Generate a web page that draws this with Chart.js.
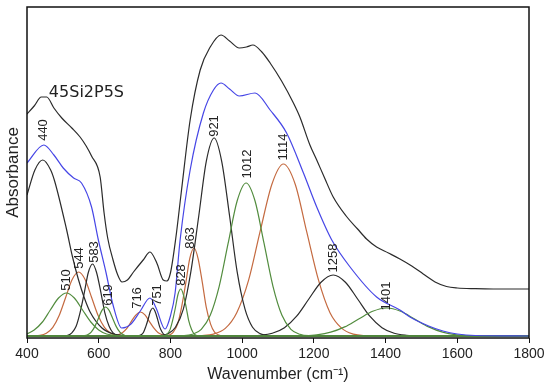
<!DOCTYPE html>
<html>
<head>
<meta charset="utf-8">
<script src="https://cdn.jsdelivr.net/npm/chart.js@4.4.1/dist/chart.umd.min.js"></script>
<style>
html,body{margin:0;padding:0;background:#fff;}
#wrap{width:550px;height:388px;}
</style>
</head>
<body>
<div id="wrap"><canvas id="c" width="550" height="388"></canvas></div>
<script>
// ---- data (wavenumber, absorbance in arbitrary units) ----
const xTicks = [400, 600, 800, 1000, 1200, 1400, 1600, 1800];

const expX = [400,420,440,455,475,497,525,548,565,580,604,615,625,640,652,665,680,697,724,743,762,780,790,800,815,830,855,883,911,941,965,992,1012,1030,1055,1078,1110,1143,1161,1189,1208,1230,1254,1290,1322,1347,1375,1408,1440,1473,1505,1538,1570,1600,1650,1700,1800];
const expY = [224,232,241,241,230,220,210,201,192,182,161,125,100,78,64,56,58,66,78,86,75,58,57,65,100,145,218,268,291,303,297,290,291,293,286,275,257,235,221,193,178,160,141,122,109,99,91,85,79,72,64,56,51.5,50,49.3,49,49];

const fitX = [400,447,475,501,530,552,580,599,620,640,664,690,716,743,760,785,800,813,827,855,892,920,941,965,992,1036,1078,1124,1171,1208,1250,1301,1375,1440,1468,1520,1560,1600,1650,1800];
const fitY = [175,193,183,170,160,155,131,98,66,33,10,14,27,40,30,9,22,45,98,168,225,248,255,249,242,245,228,205,165,131,98,71,41,28,21,12,7,4,2.5,2];

const p440X = [400,422,444,466,477,510,527,543,559,576,609,642,680,1800];
const p440Y = [143,168,178,168,157,109,81,59,41,26,10,4,2.3,2];
const p510X = [400,420,443,465,488,510,532,555,578,600,622,650,700,1800];
const p510Y = [4,8,16,28,40,45,40,28,16,8,4,2.5,2,2];
const p544X = [400,436,454,472,490,508,526,544,562,580,598,616,634,652,700,1800];
const p544Y = [2,2.7,4.8,10.7,22.8,40.8,58.5,66,58.5,40.8,22.8,10.7,4.8,2.7,2,2];
const p583X = [400,500,514,525,537,548,560,571,583,594,606,617,629,640,652,700,1800];
const p583Y = [2,2,2.8,5.2,11.7,25.4,45.7,65.5,74,65.5,45.7,25.4,11.7,5.2,2.8,2,2];
const p619X = [400,550,559,569,579,589,599,609,619,629,639,649,659,669,679,720,1800];
const p619Y = [2,2,2.3,3.3,5.9,11.4,19.6,27.6,31,27.6,19.6,11.4,5.9,3.3,2.3,2,2];
const p716X = [400,630,641,654,666,679,691,704,716,729,741,754,766,779,791,830,1800];
const p716Y = [2,2,2.3,3.1,5.2,9.8,16.6,23.2,26,23.2,16.6,9.8,5.2,3.1,2.3,2,2];
const p751X = [400,700,712,718,725,731,738,744,751,757,764,770,777,783,790,820,1800];
const p751Y = [2,2,2.3,3.2,5.8,11.1,19,26.7,30,26.7,19,11.1,5.8,3.2,2.3,2,2];
const p828X = [400,770,784,791,799,806,814,821,829,836,844,851,859,866,874,910,1800];
const p828Y = [2,2,2.5,4.1,8.4,17.3,30.5,43.5,49,43.5,30.5,17.3,8.4,4.1,2.5,2,2];
const p863X = [400,760,786,797,808,820,831,843,854,866,877,889,900,912,923,935,946,990,1800];
const p863Y = [2,2,2.3,3,5.9,13.9,30.6,55.4,79.7,90,79.7,55.4,30.6,13.9,5.9,3,2.3,2,2];
const p921X = [400,750,772,793,814,836,857,879,900,922,943,965,986,1008,1029,1051,1072,1110,1800];
const p921Y = [2,2,2.4,4.2,10.7,28.8,66.3,122,176.7,200,176.7,122,66.3,28.8,10.7,4.2,2.4,2,2];
const p1012X = [400,800,836,861,886,911,936,961,986,1011,1036,1061,1086,1111,1136,1161,1186,1250,1800];
const p1012Y = [2,2,2.3,3.7,8.7,22.7,51.7,94.8,137,155,137,94.8,51.7,22.7,8.7,3.7,2.3,2,2];
const p1114X = [400,850,888,920,953,985,1018,1050,1083,1115,1148,1180,1213,1245,1278,1310,1343,1400,1800];
const p1114Y = [2,2,2.4,3.9,9.6,25.3,57.8,106.3,153.8,174,153.8,106.3,57.8,25.3,9.6,3.9,2.4,2,2];
const p1258X = [400,980,1016,1050,1084,1118,1152,1186,1220,1254,1288,1322,1356,1390,1424,1458,1492,1550,1800];
const p1258Y = [2,2,2.1,2.7,4.7,10.3,21.8,39,55.8,63,55.8,39,21.8,10.3,4.7,2.7,2.1,2,2];
const p1401X = [400,1130,1169,1208,1247,1286,1325,1364,1403,1442,1481,1520,1559,1598,1637,1700,1800];
const p1401Y = [2,2,2.3,3.2,5.8,11.1,19,26.7,30,26.7,19,11.1,5.8,3.2,2.3,2,2];

const peakNames = ['440','510','544','583','619','716','751','828','863','921','1012','1114','1258','1401'];
const peakLabelX = [445,509,545,587,626,707,765,830,857,922,1014,1114,1254,1401];
const peakLabelY = [208,58,80,86,43,40,43,63,100,212,174,191,80,42];
const sampleName = '45Si2P5S';
const sampleLabelX = 461, sampleLabelY = 245;

// ---- build ----
const BLACK = '#2b2b2b', BLUE = '#4646e6', GREEN = '#528c3e', RED = '#c46a40';
const pts = (xs, ys) => xs.map((v, i) => ({x: v, y: ys[i]}));
const comp = (xs, ys, col) => ({data: pts(xs, ys), borderColor: col, borderWidth: 1.2, pointRadius: 0, fill: false, cubicInterpolationMode: 'monotone'});

const datasets = [
  comp(expX, expY, BLACK),
  comp(fitX, fitY, BLUE),
  comp(p510X, p510Y, GREEN),
  comp(p619X, p619Y, GREEN),
  comp(p828X, p828Y, GREEN),
  comp(p1012X, p1012Y, GREEN),
  comp(p1401X, p1401Y, GREEN),
  comp(p440X, p440Y, BLACK),
  comp(p583X, p583Y, BLACK),
  comp(p751X, p751Y, BLACK),
  comp(p921X, p921Y, BLACK),
  comp(p1258X, p1258Y, BLACK),
  comp(p544X, p544Y, RED),
  comp(p716X, p716Y, RED),
  comp(p863X, p863Y, RED),
  comp(p1114X, p1114Y, RED)
];

const annot = {
  id: 'annot',
  afterDatasetsDraw(chart) {
    const {ctx, chartArea: a, scales: {x, y}} = chart;
    ctx.save();
    ctx.strokeStyle = '#111';
    ctx.lineWidth = 1.5;
    ctx.strokeRect(a.left, a.top, a.right - a.left, a.bottom - a.top);
    ctx.fillStyle = '#222';
    ctx.font = '13px "Liberation Sans", Arial, sans-serif';
    ctx.textAlign = 'center';
    ctx.textBaseline = 'middle';
    peakNames.forEach((t, i) => {
      ctx.save();
      ctx.translate(x.getPixelForValue(peakLabelX[i]), y.getPixelForValue(peakLabelY[i]));
      ctx.rotate(-Math.PI / 2);
      ctx.fillText(t, 0, 0);
      ctx.restore();
    });
    ctx.font = '16px "DejaVu Sans", sans-serif';
    ctx.textAlign = 'left';
    ctx.fillText(sampleName, x.getPixelForValue(sampleLabelX), y.getPixelForValue(sampleLabelY));
    ctx.restore();
  }
};

new Chart(document.getElementById('c'), {
  type: 'line',
  data: {datasets},
  plugins: [annot],
  options: {
    responsive: false,
    animation: false,
    devicePixelRatio: 1,
    layout: {padding: {left: 0, right: 21, top: 7, bottom: 0}},
    plugins: {legend: {display: false}, tooltip: {enabled: false}},
    scales: {
      x: {
        type: 'linear', min: 400, max: 1800,
        afterBuildTicks: s => { s.ticks = xTicks.map(v => ({value: v})); },
        afterFit: s => { s.height = 50; },
        ticks: {color: '#222', font: {family: '"Liberation Sans", Arial, sans-serif', size: 14}, padding: 3, maxRotation: 0, callback: v => String(v)},
        grid: {display: true, drawOnChartArea: false, drawTicks: true, tickLength: 5, color: '#111', lineWidth: 1},
        border: {display: false},
        title: {display: true, text: 'Wavenumber (cm⁻¹)', color: '#222', font: {family: '"Liberation Sans", Arial, sans-serif', size: 16}, padding: {top: 0, bottom: 4}}
      },
      y: {
        type: 'linear', min: 0, max: 331,
        afterFit: s => { s.width = 27; },
        ticks: {display: false},
        grid: {display: false},
        border: {display: false},
        title: {display: true, text: 'Absorbance', color: '#222', font: {family: '"Liberation Sans", Arial, sans-serif', size: 17}, padding: {top: 3, bottom: 0}}
      }
    }
  }
});
</script>
</body>
</html>
